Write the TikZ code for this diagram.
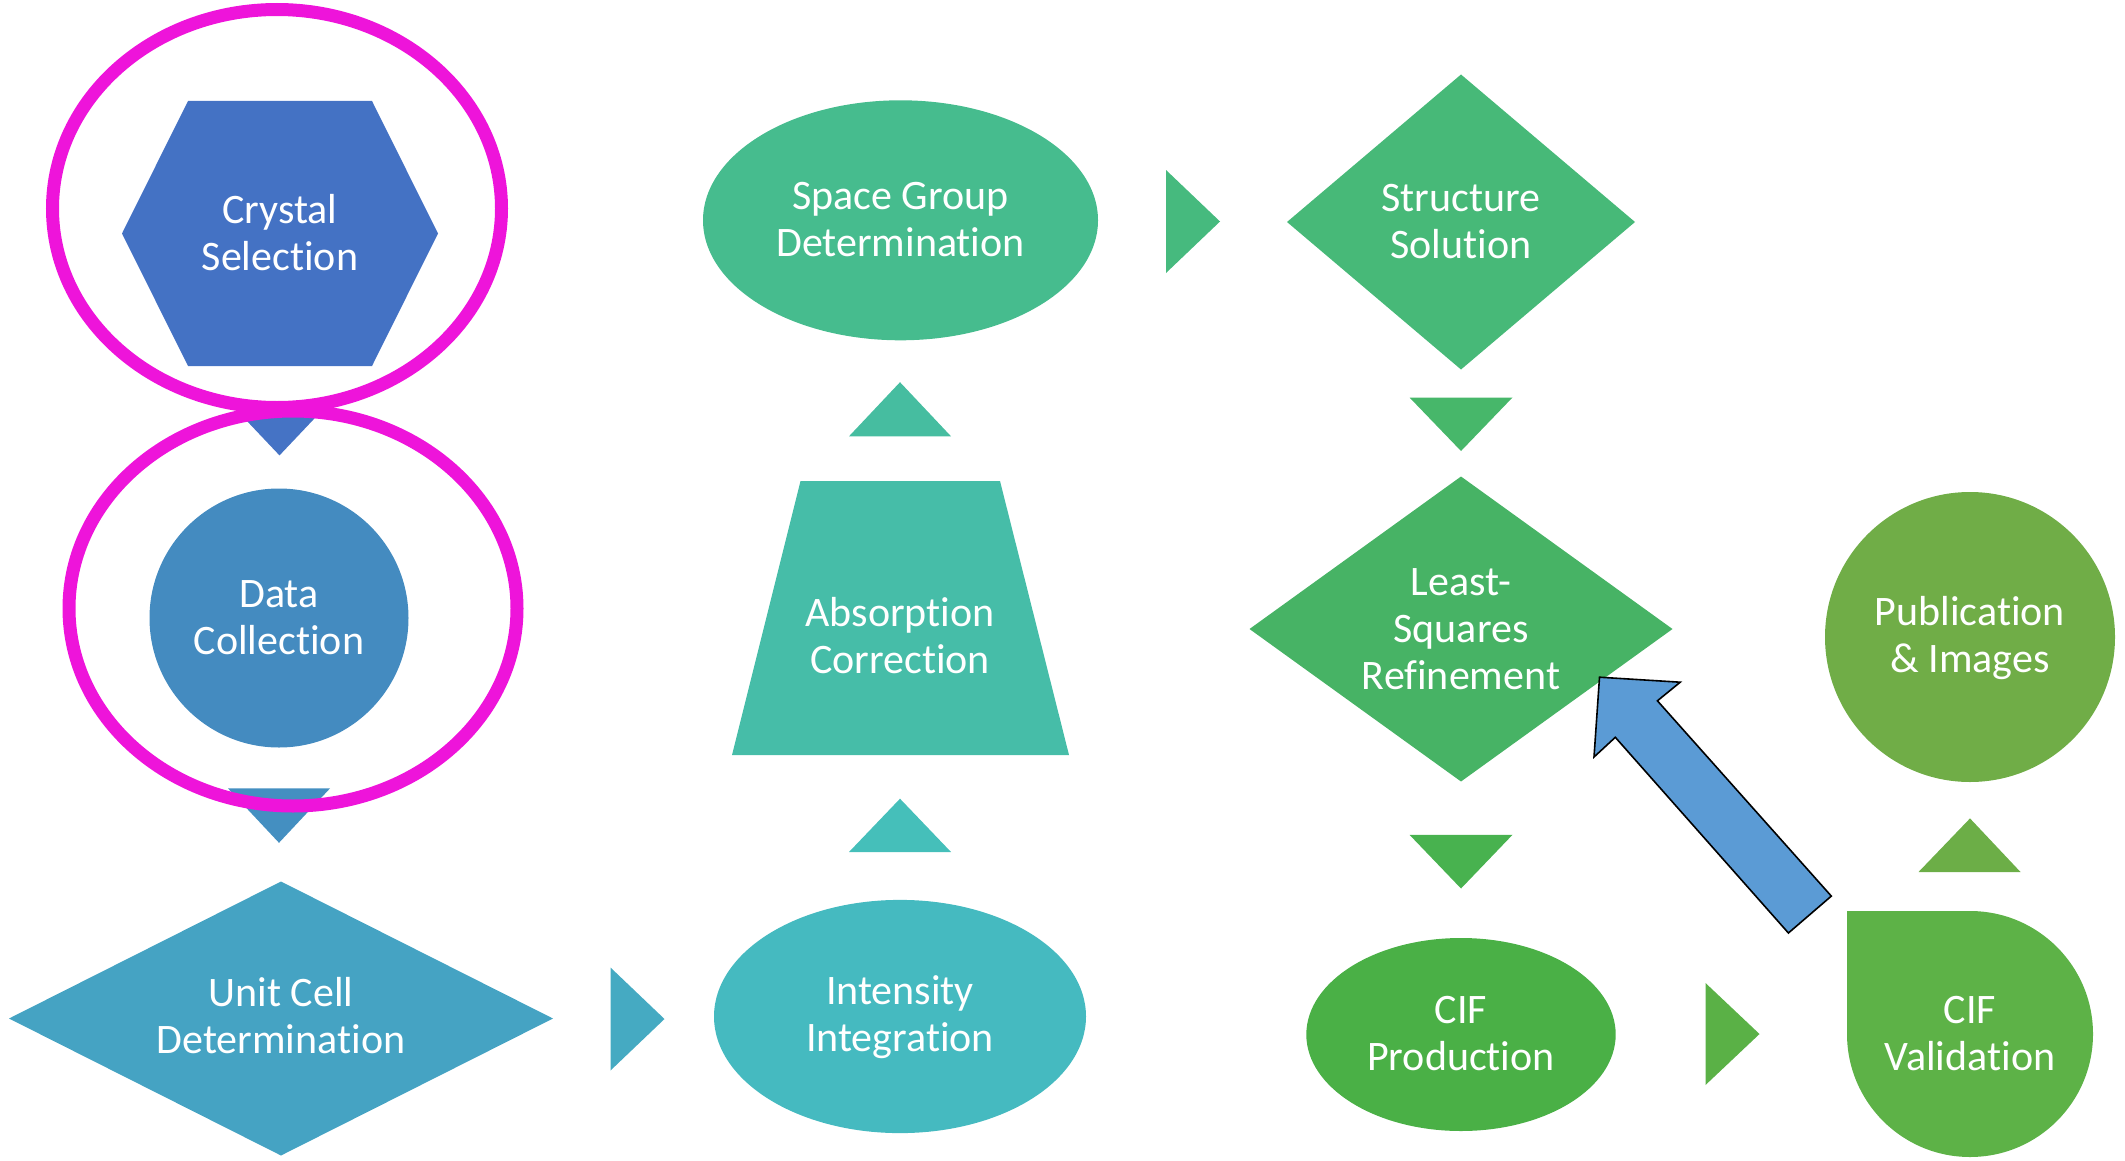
\documentclass[tikz,border=0pt]{standalone}
\usepackage{fontspec}
\setmainfont[Ligatures=NoCommon,RawFeature={-liga;-clig}]{Carlito}
\definecolor{ringc}{HTML}{EE14DA}
\definecolor{cHex}{HTML}{4472C4}
\definecolor{cT1}{HTML}{4573C5}
\definecolor{cDat}{HTML}{448BC0}
\definecolor{cT2}{HTML}{448FC1}
\definecolor{cUC}{HTML}{45A3C3}
\definecolor{cT3}{HTML}{45AAC2}
\definecolor{cII}{HTML}{45BAC0}
\definecolor{cT4}{HTML}{45BFBA}
\definecolor{cAC}{HTML}{46BDA8}
\definecolor{cT5}{HTML}{46BDA0}
\definecolor{cSG}{HTML}{46BC8E}
\definecolor{cT6}{HTML}{46BA7E}
\definecolor{cSS}{HTML}{47B978}
\definecolor{cT7}{HTML}{47B76A}
\definecolor{cLS}{HTML}{47B365}
\definecolor{cT8}{HTML}{48B24F}
\definecolor{cCP}{HTML}{4AB046}
\definecolor{cT9}{HTML}{5AB146}
\definecolor{cCV}{HTML}{5DB247}
\definecolor{cT10}{HTML}{6CAE47}
\definecolor{cPI}{HTML}{70AD47}
\definecolor{cArr}{HTML}{5B9BD5}
\begin{document}
\begin{tikzpicture}[x=0.5pt,y=-0.5pt,
  lbl/.style={text=white, align=center, font=\fontsize{21}{23.5}\selectfont, inner sep=0pt},
  ring/.style={draw=ringc, line width=6.5pt},
  blockarrow/.style={fill=cArr, draw=black, line width=0.8pt, line join=miter}
]
\useasboundingbox (0,0) rectangle (2125,1161);

% column 1
\fill[cHex] (188,101) -- (372,101) -- (438,233.5) -- (372,366) -- (188,366) -- (122,233.5) -- cycle;
\fill[cT1] (228,401) -- (331,401) -- (279.5,455.4) -- cycle;
\fill[cDat] (279,618) circle[radius=129.5];
\fill[cT2] (228,788.4) -- (330,788.4) -- (279,842.8) -- cycle;
\fill[cUC] (9,1018.5) -- (281,881.5) -- (553,1018.5) -- (281,1155.5) -- cycle;
\fill[cT3] (610.5,967.5) -- (664.5,1019) -- (610.5,1070.5) -- cycle;

% column 2
\fill[cII] (900,1016.5) ellipse[x radius=186, y radius=116.6];
\fill[cT4] (849,852) -- (951,852) -- (900,798.7) -- cycle;
\fill[cAC] (800.5,481) -- (1000,481) -- (1069,755) -- (732,755) -- cycle;
\fill[cT5] (849,436.3) -- (951,436.3) -- (900,382.2) -- cycle;
\fill[cSG] (900.5,220.3) ellipse[x radius=197.5, y radius=120];
\fill[cT6] (1166,170) -- (1220,221.5) -- (1166,273) -- cycle;

% column 3
\fill[cSS] (1287,222) -- (1461,74.5) -- (1635,222) -- (1461,369.5) -- cycle;
\fill[cT7] (1409.5,397.5) -- (1512.5,397.5) -- (1461,451) -- cycle;
\fill[cLS] (1249.5,629) -- (1461,476.5) -- (1672.5,629) -- (1461,781.5) -- cycle;
\fill[cT8] (1409.5,834.8) -- (1512.5,834.8) -- (1461,888.5) -- cycle;
\fill[cCP] (1461,1034.5) ellipse[x radius=154.7, y radius=96.5];
\fill[cT9] (1705.5,983) -- (1759.5,1034) -- (1705.5,1085) -- cycle;

% column 4
\fill[cCV] (1847,911) -- (1970,911) arc[start angle=-90, end angle=180, radius=123] -- cycle;
\fill[cT10] (1918.5,872) -- (2020.5,872) -- (1970,818.4) -- cycle;
\fill[cPI] (1970,637) circle[radius=145];

% feedback block arrow
\draw[blockarrow] (1599.5,677.2) -- (1680.2,682.2) -- (1657.4,700.8) -- (1831.3,896.1)
  -- (1788.4,933) -- (1615.3,737.3) -- (1594,757) -- cycle;

% labels
\node[lbl] (cs) at (280,232.5) {Crystal\\Selection};
\node[lbl] (dc) at (279,618) {Data\\Collection};
\node[lbl] (uc) at (281,1016) {Unit Cell\\Determination};
\node[lbl] (ii) at (900,1017.5) {Intensity\\Integration};
\node[lbl] (ac) at (900,636) {Absorption\\Correction};
\node[lbl] (sg) at (900.5,220) {Space Group\\Determination};
\node[lbl] (ss) at (1461,222) {Structure\\Solution};
\node[lbl] (lsr) at (1461,629) {Least-\\Squares\\Refinement};
\node[lbl] (cp) at (1461,1034) {CIF\\Production};
\node[lbl] (cv) at (1970,1034) {CIF\\Validation};
\node[lbl] (pi) at (1970,638) {Publication\\\& Images};

% highlight rings
\draw[ring] (277,208.5) ellipse[x radius=224.5, y radius=199];
\draw[ring] (293,608.5) ellipse[x radius=224, y radius=197.5];
\end{tikzpicture}
\end{document}
